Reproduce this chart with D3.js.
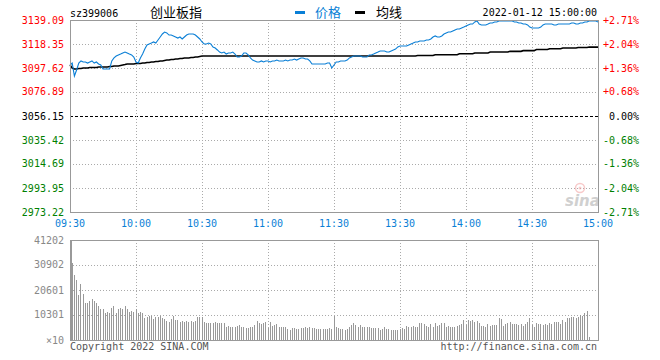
<!DOCTYPE html>
<html><head><meta charset="utf-8">
<script src="https://cdn.jsdelivr.net/npm/d3@7"></script>
<style>
html,body{margin:0;padding:0;background:#fff;}
svg{display:block;}
text{font-family:"DejaVu Sans Mono","Liberation Mono",monospace;font-size:10px;}
.cjk{font-family:"Noto Sans CJK SC",sans-serif;font-size:13px;}
</style></head>
<body><div id="chart"></div>
<script>
const title = "创业板指";
const code = "sz399006";
const stamp = "2022-01-12 15:00:00";
const legendNames = ["价格","均线"];
const timeLabels = ["09:30","10:00","10:30","11:00","11:30","13:30","14:00","14:30","15:00"];
const timeIndex = [0,30,60,90,120,150,180,210,240];
const priceTicks = [3139.09,3118.35,3097.62,3076.89,3056.15,3035.42,3014.69,2993.95,2973.22];
const pctTicks = ["+2.71%","+2.04%","+1.36%","+0.68%"," 0.00%","-0.68%","-1.36%","-2.04%","-2.71%"];
const volTicks = [41202,30902,20601,10301];
const prevClose = 3056.15;

const price = [
3100.2,3101.9,3090.7,3095.9,3101.9,3103.7,3102.8,3102.8,3101.9,3102.8,
3103.7,3101.9,3102.8,3101.1,3100.2,3096.8,3096.8,3096.8,3096.8,3103.7,
3106.3,3108.0,3108.9,3109.7,3110.6,3111.4,3110.6,3109.7,3108.9,3107.1,
3102.8,3101.9,3106.3,3109.7,3114.0,3117.5,3118.4,3119.2,3120.1,3119.2,
3121.8,3124.4,3127.0,3128.7,3127.9,3126.1,3126.1,3125.3,3124.4,3123.5,
3124.4,3122.7,3124.4,3126.1,3127.0,3127.0,3127.0,3126.1,3124.4,3122.7,
3120.1,3118.4,3118.4,3119.2,3118.4,3115.8,3114.9,3113.2,3111.4,3110.6,
3111.4,3109.7,3110.6,3110.6,3111.4,3109.7,3107.1,3107.1,3108.0,3110.6,
3110.6,3108.9,3106.3,3104.5,3103.7,3102.8,3102.8,3103.7,3102.8,3103.7,
3103.7,3102.8,3103.7,3103.7,3104.5,3103.7,3103.7,3103.7,3104.5,3103.7,
3104.5,3104.5,3105.4,3104.5,3105.4,3106.3,3106.3,3105.4,3105.4,3103.7,
3101.1,3101.1,3101.1,3101.1,3101.1,3101.1,3101.1,3101.9,3101.9,3097.6,
3100.2,3102.8,3102.8,3103.7,3103.7,3103.7,3104.5,3106.3,3107.1,3108.0,
3108.0,3108.0,3108.0,3107.1,3107.1,3107.1,3108.9,3108.9,3109.7,3110.6,
3111.4,3112.3,3112.3,3112.3,3111.4,3111.4,3112.3,3113.2,3114.0,3115.8,
3116.6,3116.6,3116.6,3116.6,3117.5,3118.4,3119.2,3120.1,3120.1,3121.0,
3121.0,3121.0,3121.8,3121.8,3122.7,3124.4,3125.3,3124.4,3124.4,3125.3,
3127.0,3127.9,3128.7,3128.7,3129.6,3130.5,3131.3,3131.3,3132.2,3133.0,
3133.9,3134.8,3135.6,3135.6,3137.4,3138.2,3135.6,3134.8,3134.8,3134.8,
3135.6,3136.5,3136.5,3137.4,3137.4,3138.2,3138.2,3138.2,3138.2,3138.2,
3138.2,3138.2,3137.4,3137.4,3136.5,3136.5,3135.6,3135.6,3134.8,3133.0,
3132.2,3132.2,3132.2,3132.2,3133.0,3134.8,3135.6,3135.6,3135.6,3135.6,
3134.8,3134.8,3135.6,3135.6,3135.6,3135.6,3135.6,3135.6,3136.5,3136.5,
3135.6,3135.6,3136.5,3136.5,3137.4,3137.4,3138.2,3138.2,3138.2,3138.2,
3137.4];

const avg = [
3100.2,3097.6,3096.8,3096.8,3097.2,3097.2,3097.6,3097.6,3097.6,3098.1,
3098.1,3098.1,3098.1,3098.5,3098.5,3098.5,3098.5,3098.5,3098.9,3098.9,
3099.4,3099.4,3099.4,3099.8,3100.2,3100.6,3101.1,3101.1,3101.1,3101.1,
3101.5,3101.5,3101.5,3101.9,3101.9,3102.4,3102.4,3102.8,3102.8,3103.2,
3103.2,3103.7,3103.7,3104.1,3104.5,3104.5,3105.0,3105.0,3105.4,3105.4,
3105.8,3105.8,3106.3,3106.3,3106.3,3106.7,3106.7,3107.1,3107.1,3107.6,
3108.0,3108.0,3108.0,3108.0,3108.0,3108.0,3108.0,3108.0,3108.0,3108.0,
3108.0,3108.0,3108.0,3108.0,3108.0,3108.0,3108.0,3108.0,3108.0,3108.0,
3108.0,3108.0,3108.0,3108.0,3108.0,3108.0,3108.0,3108.0,3108.0,3108.0,
3108.0,3108.0,3108.0,3108.0,3108.0,3108.0,3108.0,3108.0,3108.0,3108.0,
3108.0,3108.0,3108.0,3108.0,3108.0,3108.0,3108.0,3108.0,3108.0,3108.0,
3108.0,3108.0,3108.0,3108.0,3108.0,3108.0,3108.0,3108.0,3108.0,3108.0,
3108.0,3108.0,3108.0,3108.0,3108.0,3108.0,3108.0,3108.0,3108.0,3108.0,
3108.0,3108.0,3108.0,3108.0,3108.0,3108.0,3108.0,3108.0,3108.0,3108.0,
3108.0,3108.0,3108.0,3108.0,3108.0,3108.0,3108.0,3108.0,3108.0,3108.0,
3108.0,3108.0,3108.0,3108.0,3108.0,3108.0,3108.0,3108.0,3108.4,3108.4,
3108.4,3108.4,3108.4,3108.4,3108.4,3108.4,3109.1,3109.1,3109.1,3109.1,
3109.1,3109.1,3109.1,3109.1,3109.1,3109.1,3109.1,3109.9,3109.9,3109.9,
3109.9,3109.9,3109.9,3109.9,3110.6,3110.6,3110.6,3110.6,3110.6,3110.6,
3110.6,3111.4,3111.4,3111.4,3111.4,3111.4,3111.4,3111.4,3111.4,3111.4,
3112.0,3112.0,3112.0,3112.0,3112.0,3112.0,3112.6,3112.6,3112.6,3112.6,
3112.6,3112.6,3113.6,3113.6,3113.6,3113.6,3113.6,3113.6,3114.3,3114.3,
3114.3,3114.3,3114.3,3114.3,3114.9,3114.9,3114.9,3114.9,3114.9,3114.9,
3114.9,3115.3,3115.3,3115.3,3115.3,3115.3,3115.7,3115.7,3115.7,3115.7,
3115.7];

const volume = [
45000,31588,26781,24721,18541,23073,18953,15382,15382,16206,
16893,16206,15382,14009,12773,12773,11262,11674,11262,13047,
14009,10987,12773,13047,12635,14009,12635,11674,12086,11674,
12910,10987,11674,10987,8927,9339,9888,9888,8515,9339,
9614,9888,8927,8515,7966,7554,8515,9888,8240,8240,
7279,7966,7416,7828,7554,7966,7554,7966,9614,9339,
9339,7554,6867,7142,7142,7142,7554,6867,6867,7142,
6867,5219,5768,5494,5494,5494,5768,6180,5494,5494,
4807,4807,5219,5494,6180,7966,6867,6592,6867,7554,
4807,7554,5768,6180,6455,5494,5219,5494,5494,4395,
4120,4807,4807,4532,4395,4807,4807,5219,4807,5219,
4944,4944,4670,4395,4395,4670,4395,4395,4807,4670,
9888,5219,5082,4670,4532,4258,4670,5219,6180,6867,
6318,5494,6180,5494,5219,5219,5219,4944,4944,4944,
4944,4120,4670,5219,4670,4532,4120,4120,4258,4120,
4532,4807,4532,5631,5494,5356,5631,5356,5494,6867,
6867,6455,5768,5494,6592,5494,6867,5906,6180,6867,
6867,5494,5906,5494,5219,5494,5768,6180,6592,8240,
6180,8240,7966,8240,7554,7966,6867,5768,5768,5494,
6455,5768,6180,6180,6180,8927,8515,5906,6592,7142,
7554,6455,6592,6592,6180,6455,5768,6592,7554,8927,
6180,5494,7142,6592,6592,6180,6455,6180,6867,6455,
7554,7554,7554,6455,8240,7554,8927,8927,9339,9339,
8927,9614,10301,9888,10987,12086,1099,0,0,0,
0];

const W = 660, H = 360;
const L = 70, R = 598, PT = 20, PB = 212, VT = 240, VB = 340;
const BLUE = "#0a7fd6", RED = "#ff0000", GREEN = "#008000", GRAY = "#999";

const svg = d3.select("#chart").append("svg").attr("width", W).attr("height", H)
  .style("background", "#fff");

const x = d3.scaleLinear().domain([0, 240]).range([L, R]);
const y = d3.scaleLinear().domain([priceTicks[8], priceTicks[0]]).range([PB, PT]);
const yv = d3.scaleLinear().domain([0, volTicks[0]]).range([VB, VT]).clamp(true);

// ---------- price panel grid ----------
const g = svg.append("g");
g.selectAll("line.hg").data(priceTicks.slice(1, 8)).join("line")
  .attr("x1", L).attr("x2", R)
  .attr("y1", d => Math.round(y(d)) + 0.5).attr("y2", d => Math.round(y(d)) + 0.5)
  .attr("stroke", d => d === prevClose ? "#000" : "#aaa")
  .attr("stroke-dasharray", d => d === prevClose ? "3,2" : "1,2");
g.selectAll("line.vg").data(timeIndex.slice(1, 8)).join("line")
  .attr("x1", d => Math.round(x(d)) + 0.5).attr("x2", d => Math.round(x(d)) + 0.5)
  .attr("y1", PT).attr("y2", PB)
  .attr("stroke", "#aaa").attr("stroke-dasharray", "1,2");

// watermark
const wm = svg.append("g").attr("opacity", 0.55);
wm.append("circle").attr("cx", 580).attr("cy", 188).attr("r", 4.5)
  .attr("fill", "none").attr("stroke", "#f3a0a0").attr("stroke-width", 1.5);
wm.append("circle").attr("cx", 580).attr("cy", 188).attr("r", 1.5).attr("fill", "#f3a0a0");
wm.append("text").attr("x", 565).attr("y", 206)
  .style("font-family", "DejaVu Sans").style("font-size", "15px")
  .style("font-style", "italic").style("font-weight", "bold")
  .attr("fill", "#aaa").text("sina");

// avg & price lines
const lineP = d3.line().x((d, i) => x(i)).y(d => y(d));
svg.append("path").datum(avg).attr("d", lineP)
  .attr("fill", "none").attr("stroke", "#000").attr("stroke-width", 1.6);
svg.append("path").datum(price).attr("d", lineP)
  .attr("fill", "none").attr("stroke", BLUE).attr("stroke-width", 1.1);

// border
svg.append("rect").attr("x", L + 0.5).attr("y", PT + 0.5)
  .attr("width", R - L).attr("height", PB - PT)
  .attr("fill", "none").attr("stroke", GRAY);

// left labels
const colorOf = (i) => i < 4 ? RED : (i === 4 ? "#000" : GREEN);
svg.selectAll("text.lt").data(priceTicks).join("text")
  .attr("x", 64).attr("y", d => y(d) + 3.5).attr("text-anchor", "end")
  .attr("fill", (d, i) => colorOf(i)).text(d => d.toFixed(2));
svg.selectAll("text.rt").data(pctTicks).join("text")
  .attr("x", 603).attr("y", (d, i) => y(priceTicks[i]) + 3.5)
  .style("white-space", "pre")
  .attr("fill", (d, i) => colorOf(i)).text(d => d);

// time labels
svg.selectAll("text.tl").data(timeLabels).join("text")
  .attr("x", (d, i) => x(timeIndex[i])).attr("y", 227).attr("text-anchor", "middle")
  .attr("fill", BLUE).text(d => d);

// header
svg.append("text").attr("x", 70).attr("y", 17).attr("fill", "#000").text(code);
svg.append("text").attr("class", "cjk").attr("x", 150).attr("y", 17).attr("fill", "#000").text(title);
svg.append("rect").attr("x", 295).attr("y", 11).attr("width", 10).attr("height", 3).attr("fill", BLUE);
svg.append("text").attr("class", "cjk").attr("x", 315).attr("y", 17).attr("fill", BLUE).text(legendNames[0]);
svg.append("rect").attr("x", 355).attr("y", 11).attr("width", 10).attr("height", 3).attr("fill", "#000");
svg.append("text").attr("class", "cjk").attr("x", 376).attr("y", 17).attr("fill", "#000").text(legendNames[1]);
svg.append("text").attr("x", 597).attr("y", 16).attr("text-anchor", "end").attr("fill", "#000").text(stamp);

// ---------- volume panel ----------
svg.selectAll("line.vhg").data(volTicks.slice(1)).join("line")
  .attr("x1", L).attr("x2", R)
  .attr("y1", d => Math.round(yv(d)) + 0.5).attr("y2", d => Math.round(yv(d)) + 0.5)
  .attr("stroke", "#aaa").attr("stroke-dasharray", "1,2");
svg.selectAll("line.vvg").data(timeIndex.slice(1, 8)).join("line")
  .attr("x1", d => Math.round(x(d)) + 0.5).attr("x2", d => Math.round(x(d)) + 0.5)
  .attr("y1", VT).attr("y2", VB)
  .attr("stroke", "#aaa").attr("stroke-dasharray", "1,2");
svg.selectAll("rect.bar").data(volume).join("rect")
  .attr("x", (d, i) => Math.floor(x(i)) + (i === 0 ? 1 : 0))
  .attr("y", d => yv(d))
  .attr("width", 1).attr("height", d => VB - yv(d))
  .attr("fill", GRAY).attr("shape-rendering", "crispEdges");
svg.append("rect").attr("x", L + 0.5).attr("y", VT + 0.5)
  .attr("width", R - L).attr("height", VB - VT)
  .attr("fill", "none").attr("stroke", GRAY);
svg.selectAll("text.vt").data(volTicks).join("text")
  .attr("x", 64).attr("y", d => yv(d) + 3.5).attr("text-anchor", "end")
  .attr("fill", "#888").text(d => d);
svg.append("text").attr("x", 64).attr("y", VB + 3.5).attr("text-anchor", "end")
  .attr("fill", "#888").text("×10");
svg.append("text").attr("x", 70).attr("y", 350).attr("fill", "#555").text("Copyright 2022 SINA.COM");
svg.append("text").attr("x", 597).attr("y", 350).attr("text-anchor", "end").attr("fill", "#555").text("http://finance.sina.com.cn");
</script>
</body></html>
